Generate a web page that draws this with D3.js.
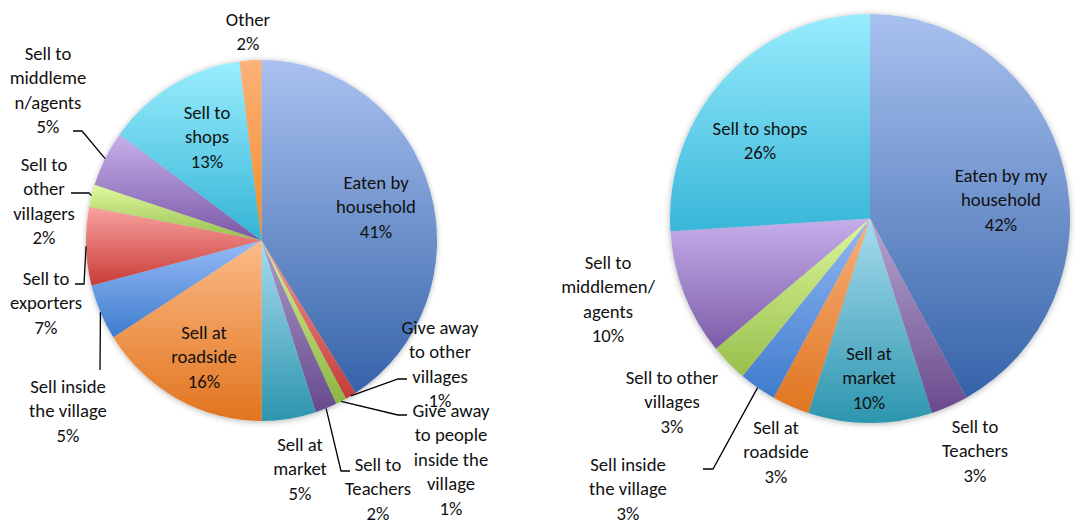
<!DOCTYPE html>
<html>
<head>
<meta charset="utf-8">
<script src="https://cdn.jsdelivr.net/npm/d3@7"></script>
<style>
  body { margin: 0; background: #fff; }
  svg text { font-family: Carlito, Lato, "Open Sans", sans-serif; font-size: 18.7px; fill: #111; }
</style>
</head>
<body>
<div id="chart"></div>
<script>
    // Left pie data
    var leftCategories = ["Eaten by household", "Give away to other villages", "Give away to people inside the village",
        "Sell to Teachers", "Sell at market", "Sell at roadside", "Sell inside the village", "Sell to exporters",
        "Sell to other villagers", "Sell to middlemen/agents", "Sell to shops", "Other"];
    var leftValues = [41, 1, 1, 2, 5, 16, 5, 7, 2, 5, 13, 2];
    var leftLabelLines = [
        ["Eaten by", "household"], ["Give away", "to other", "villages"], ["Give away", "to people", "inside the", "village"],
        ["Sell to", "Teachers"], ["Sell at", "market"], ["Sell at", "roadside"], ["Sell inside", "the village"],
        ["Sell to", "exporters"], ["Sell to", "other", "villagers"], ["Sell to", "middleme", "n/agents"],
        ["Sell to", "shops"], ["Other"]
    ];

    // Right pie data
    var rightCategories = ["Eaten by my household", "Sell to Teachers", "Sell at market", "Sell at roadside",
        "Sell inside the village", "Sell to other villages", "Sell to middlemen/agents", "Sell to shops"];
    var rightValues = [42, 3, 10, 3, 3, 3, 10, 26];
    var rightLabelLines = [
        ["Eaten by my", "household"], ["Sell to", "Teachers"], ["Sell at", "market"], ["Sell at", "roadside"],
        ["Sell inside", "the village"], ["Sell to other", "villages"], ["Sell to", "middlemen/", "agents"], ["Sell to shops"]
    ];

    // colours (top, bottom of each slice gradient)
    var leftColors = [
        ["#a9c1ef", "#3563a9"], ["#f39a96", "#c43c37"], ["#d6f294", "#8db544"], ["#ad9bcc", "#674a8c"],
        ["#a8dcef", "#2c95ae"], ["#fbbb88", "#e2741e"], ["#95bbf6", "#3e7ccd"], ["#f9a3a0", "#c93b37"],
        ["#e0fa9e", "#96bd4e"], ["#c6b0ea", "#7a57a6"], ["#9aeefe", "#34b4d6"], ["#fcb27a", "#f28a26"]
    ];
    var rightColors = [
        ["#a9c1ef", "#3563a9"], ["#b7a6d1", "#6a4a8c"], ["#a8dcef", "#2c95ae"], ["#f7b07c", "#e07520"],
        ["#93b8f4", "#3f7bcc"], ["#dcf79a", "#98bf4c"], ["#c5aeea", "#7c5ba8"], ["#98ecfd", "#38b6d8"]
    ];

    // label layout (first line centre) and leader lines
    var leftLabelPos = [[376, 182], [440, 327], [451, 410], [378, 464], [300, 444], [204, 332], [68, 386],
        [46, 278], [44, 164], [48, 53], [207, 112], [248, 19]];
    var leftLeaders = {
        1: [[407, 379], [398, 379]], 2: [[407, 415], [398, 415]], 3: [[350, 471], [341, 471]],
        6: [[100, 370]], 7: [[75, 284], [84, 284]], 8: [[71, 193], [89, 193]], 9: [[73, 131], [82, 131]]
    };
    var rightLabelPos = [[1001, 175], [975, 426], [869, 353], [776, 427], [628, 464], [672, 377], [608, 262], [760, 128]];
    var rightLeaders = { 4: [[703, 469], [713, 469]] };

    var svgWidth = 1076;
    var svgHeight = 523;
    var lineHeight = 24.5;

    var svg = d3.select("#chart")
        .append("svg")
        .attr("width", svgWidth)
        .attr("height", svgHeight);

    var defs = svg.append("defs");

    var shadow = defs.append("filter")
        .attr("id", "shadow")
        .attr("x", "-10%").attr("y", "-10%")
        .attr("width", "120%").attr("height", "120%");
    shadow.append("feDropShadow")
        .attr("dx", 0).attr("dy", 1)
        .attr("stdDeviation", 3)
        .attr("flood-color", "#000")
        .attr("flood-opacity", 0.3);

    function drawPie(name, cx, cy, rx, ry, values, labelLines, colors, labelPos, leaders) {
        var total = d3.sum(values);

        colors.forEach(function(c, i) {
            var grad = defs.append("linearGradient")
                .attr("id", name + "-g" + i)
                .attr("x1", 0).attr("y1", 0)
                .attr("x2", 0).attr("y2", 1);
            grad.append("stop").attr("offset", "0%").attr("stop-color", c[0]);
            grad.append("stop").attr("offset", "100%").attr("stop-color", c[1]);
        });

        var pie = d3.pie().sort(null).value(d => d);
        var arcs = pie(values);
        var arc = d3.arc().innerRadius(0).outerRadius(ry);

        var pieGroup = svg.append("g")
            .attr("transform", `translate(${cx}, ${cy}) scale(${rx / ry}, 1)`)
            .attr("filter", "url(#shadow)");

        pieGroup.selectAll("path")
            .data(arcs)
            .enter()
            .append("path")
            .attr("d", arc)
            .attr("fill", (d, i) => `url(#${name}-g${i})`);

        // leader lines
        Object.keys(leaders).forEach(function(k) {
            var a = arcs[+k];
            var mid = (a.startAngle + a.endAngle) / 2;
            var end = [cx + Math.sin(mid) * rx, cy - Math.cos(mid) * ry];
            var pts = leaders[k].concat([end]);
            svg.append("path")
                .attr("d", d3.line()(pts))
                .attr("fill", "none")
                .attr("stroke", "#000")
                .attr("stroke-width", 1.3);
        });

        // labels
        arcs.forEach(function(a, i) {
            var lines = labelLines[i].concat([Math.round(a.data / total * 100) + "%"]);
            var t = svg.append("text")
                .attr("text-anchor", "middle");
            lines.forEach(function(l, j) {
                t.append("tspan")
                    .attr("x", labelPos[i][0])
                    .attr("y", labelPos[i][1] + j * lineHeight)
                    .attr("dy", "0.35em")
                    .text(l);
            });
        });
    }

    drawPie("left", 261.5, 240.5, 175.5, 180.5, leftValues, leftLabelLines, leftColors, leftLabelPos, leftLeaders);
    drawPie("right", 870, 218.5, 200, 204.5, rightValues, rightLabelLines, rightColors, rightLabelPos, rightLeaders);
</script>
</body>
</html>
